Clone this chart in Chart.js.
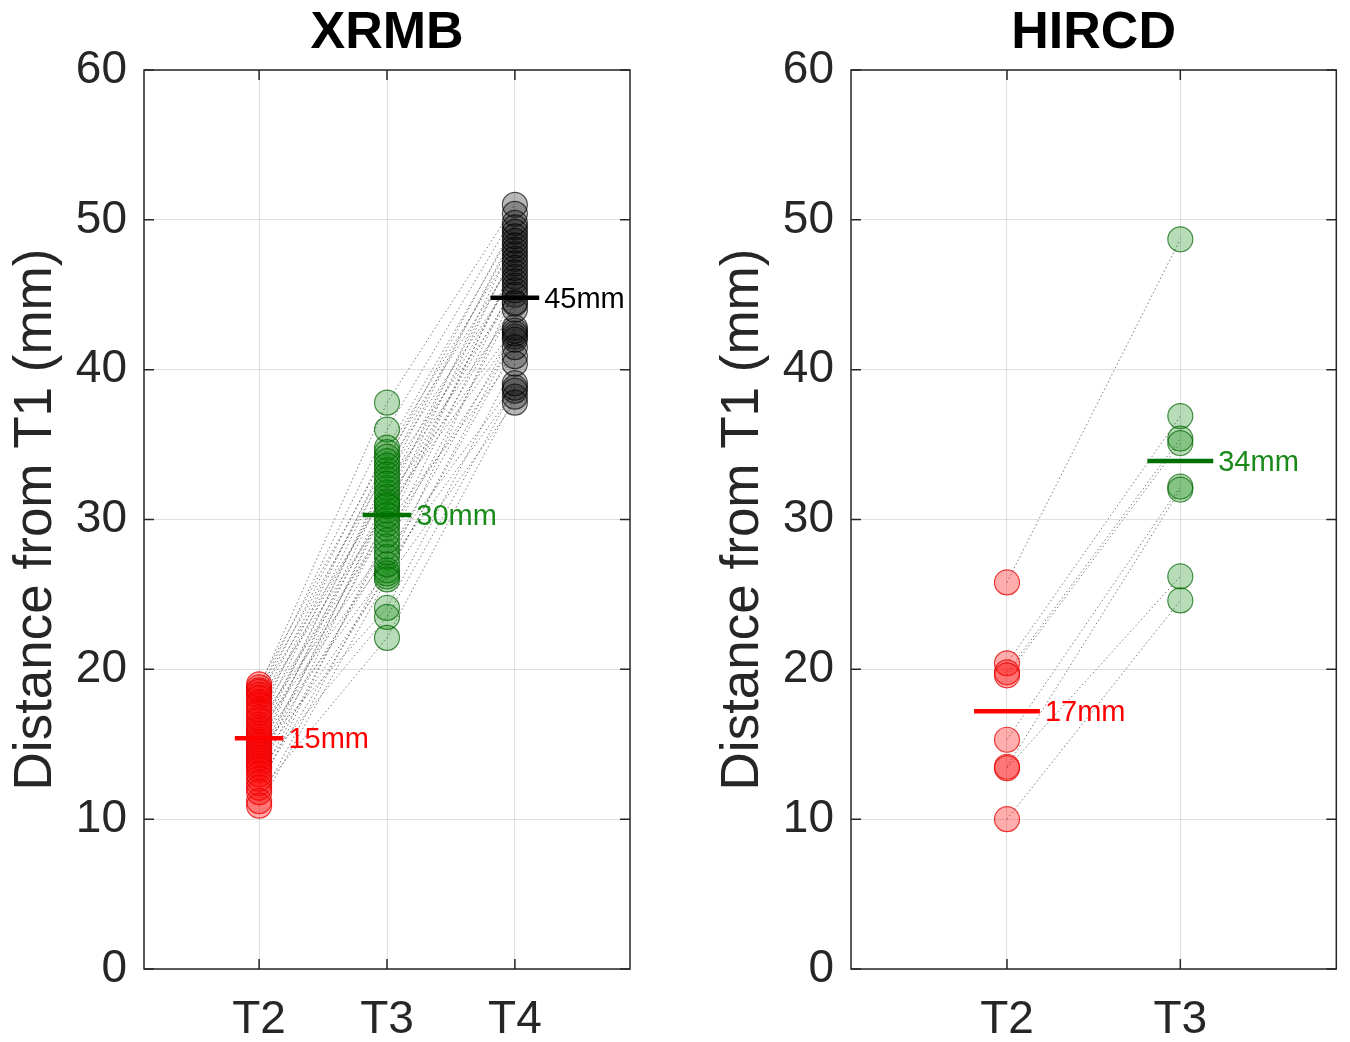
<!DOCTYPE html>
<html>
<head>
<meta charset="utf-8">
<script src="https://cdn.jsdelivr.net/npm/chart.js@4.4.1/dist/chart.umd.min.js"></script>
<style>
  html, body { margin: 0; padding: 0; background: #ffffff; }
  #wrap { position: relative; width: 1350px; height: 1042px; background: #fff; }
  .panel { position: absolute; top: 0; width: 675px; height: 1042px; }
  #p1 { left: 0; }
  #p2 { left: 675px; }
</style>
</head>
<body>
<div id="wrap">
  <div class="panel" id="p1"><canvas id="c1" width="675" height="1042"></canvas></div>
  <div class="panel" id="p2"><canvas id="c2" width="675" height="1042"></canvas></div>
</div>
<script>
// ---------------- DATA ----------------
const yTickValues = [0, 10, 20, 30, 40, 50, 60];
const yAxisTitle = 'Distance from T1 (mm)';

// XRMB panel (one entry per speaker, same order in each array)
const xrmbTitle = 'XRMB';
const xrmbCategories = ['T2', 'T3', 'T4'];
const xrmbT2 = [19.0, 18.8, 18.6, 18.5, 18.3, 18.1, 17.8, 17.6, 17.3, 17.1,
                16.8, 16.6, 16.3, 16.1, 15.9, 15.7, 15.5, 15.3, 15.1, 14.9,
                14.7, 14.5, 14.3, 14.1, 13.9, 13.7, 13.5, 13.3, 13.0, 12.7,
                12.4, 12.1, 11.8, 11.2, 10.9];
const xrmbT3 = [34.5, 37.8, 33.3, 36.0, 31.8, 34.8, 30.6, 33.9, 32.1, 29.4,
                34.2, 28.2, 33.6, 31.0, 27.5, 32.7, 30.0, 33.0, 26.6, 31.5,
                24.1, 32.4, 29.7, 27.8, 30.9, 26.2, 31.2, 23.5, 30.3, 28.6,
                26.4, 29.0, 22.1, 27.0, 26.0];
const xrmbT4 = [48.3, 51.0, 48.9, 50.4, 46.5, 49.5, 48.0, 49.8, 47.7, 47.1,
                47.4, 44.4, 46.2, 45.6, 42.6, 49.2, 46.8, 45.0, 45.3, 42.8,
                40.4, 44.0, 40.9, 39.1, 42.4, 42.2, 48.6, 38.8, 44.5, 45.9,
                41.5, 42.0, 38.2, 38.6, 37.8];
const xrmbMeans = [15.4, 30.3, 44.8];
const xrmbMeanLabels = ['15mm', '30mm', '45mm'];

// HIRCD panel
const hircdTitle = 'HIRCD';
const hircdCategories = ['T2', 'T3'];
const hircdT2 = [25.8, 20.4, 19.8, 19.6, 15.3, 13.5, 13.4, 10.0];
const hircdT3 = [48.7, 36.9, 35.4, 35.1, 32.2, 32.0, 26.2, 24.6];
const hircdMeans = [17.2, 33.9];
const hircdMeanLabels = ['17mm', '34mm'];

// ---------------- STYLE ----------------
const pointFill   = ['rgba(255,0,0,0.32)', 'rgba(0,128,0,0.28)', 'rgba(0,0,0,0.28)'];
const pointBorder = ['rgba(230,0,0,0.75)', 'rgba(0,100,0,0.70)', 'rgba(0,0,0,0.65)'];
const meanColor   = ['#ff0000', '#007000', '#000000'];
const labelColor  = ['#ff0000', '#1a8a1a', '#000000'];
const FONT = '"Liberation Sans", Arial, Helvetica, sans-serif';
const axisColor = '#262626';

const boxPlugin = {
  id: 'boxPlugin',
  afterDatasetsDraw(chart) {
    const ctx = chart.ctx;
    const a = chart.chartArea;
    const xs = chart.scales.x, ys = chart.scales.y;
    ctx.save();
    ctx.strokeStyle = axisColor;
    ctx.lineWidth = 1.5;
    ctx.strokeRect(a.left, a.top, a.right - a.left, a.bottom - a.top);
    // inward tick marks
    const tl = 10;
    ctx.beginPath();
    ys.ticks.forEach(t => {
      const y = ys.getPixelForValue(t.value);
      ctx.moveTo(a.left, y); ctx.lineTo(a.left + tl, y);
      ctx.moveTo(a.right, y); ctx.lineTo(a.right - tl, y);
    });
    xs.ticks.forEach(t => {
      const x = xs.getPixelForValue(t.value);
      ctx.moveTo(x, a.bottom); ctx.lineTo(x, a.bottom - tl);
      ctx.moveTo(x, a.top); ctx.lineTo(x, a.top + tl);
    });
    ctx.stroke();
    // mean labels
    const opts = chart.options.plugins.boxPlugin;
    ctx.font = '29px ' + FONT;
    ctx.textBaseline = 'middle';
    ctx.textAlign = 'left';
    opts.means.forEach((m, i) => {
      ctx.fillStyle = labelColor[i];
      const x = xs.getPixelForValue(i + 1 + opts.halfWidth) + 5;
      const y = ys.getPixelForValue(m);
      ctx.fillText(opts.labels[i], x, y + 2);
    });
    ctx.restore();
  }
};

function makePanel(canvasId, title, categories, series, means, meanLabels, yAxisWidth, yTitlePad, rightPad) {
  const halfWidth = 0.19;
  const datasets = [];
  // dotted per-subject connecting lines
  const n = series[0].length;
  for (let s = 0; s < n; s++) {
    datasets.push({
      type: 'line',
      data: series.map((arr, k) => ({ x: k + 1, y: arr[s] })),
      borderColor: 'rgba(70,70,70,0.7)',
      borderWidth: 1,
      borderDash: [1.5, 2.5],
      pointRadius: 0,
      fill: false,
      tension: 0,
      order: 10
    });
  }
  // circles per category
  series.forEach((arr, k) => {
    datasets.push({
      type: 'scatter',
      data: arr.map(v => ({ x: k + 1, y: v })),
      backgroundColor: pointFill[k],
      borderColor: pointBorder[k],
      borderWidth: 1.2,
      pointRadius: 12.5,
      pointHoverRadius: 12.5,
      order: 5
    });
  });
  // mean bars
  means.forEach((m, k) => {
    datasets.push({
      type: 'line',
      data: [{ x: k + 1 - halfWidth, y: m }, { x: k + 1 + halfWidth, y: m }],
      borderColor: meanColor[k],
      borderWidth: 4.5,
      pointRadius: 0,
      fill: false,
      order: 1
    });
  });

  return new Chart(document.getElementById(canvasId), {
    type: 'scatter',
    data: { datasets },
    plugins: [boxPlugin],
    options: {
      responsive: false,
      animation: false,
      devicePixelRatio: 1,
      layout: { padding: { left: 0, right: rightPad, top: 0, bottom: 0 } },
      plugins: {
        legend: { display: false },
        tooltip: { enabled: false },
        title: {
          display: true,
          text: title,
          fullSize: false,
          color: '#000',
          font: { family: FONT, size: 52, weight: 'bold', lineHeight: 1.2 },
          padding: { top: 2, bottom: 5.6 }
        },
        boxPlugin: { means, labels: meanLabels, halfWidth }
      },
      scales: {
        x: {
          type: 'linear',
          min: 0.1,
          max: categories.length + 0.9,
          afterBuildTicks: (scale) => { scale.ticks = categories.map((c, i) => ({ value: i + 1 })); },
          afterFit: (scale) => { scale.height = 73; },
          ticks: {
            callback: (v) => categories[Math.round(v) - 1] || '',
            color: axisColor,
            font: { family: FONT, size: 46 },
            padding: 24,
            maxRotation: 0,
            autoSkip: false
          },
          grid: { color: 'rgba(0,0,0,0.12)', lineWidth: 1, drawTicks: false },
          border: { display: false }
        },
        y: {
          type: 'linear',
          min: 0,
          max: 60,
          afterBuildTicks: (scale) => { scale.ticks = yTickValues.map(v => ({ value: v })); },
          afterFit: (scale) => { scale.width = yAxisWidth; },
          ticks: {
            color: axisColor,
            font: { family: FONT, size: 46 },
            padding: 17
          },
          grid: { color: 'rgba(0,0,0,0.12)', lineWidth: 1, drawTicks: false },
          border: { display: false },
          title: {
            display: true,
            text: yAxisTitle,
            color: axisColor,
            font: { family: FONT, size: 53, lineHeight: 1.2 },
            padding: { top: yTitlePad, bottom: 0 }
          }
        }
      }
    }
  });
}

makePanel('c1', xrmbTitle, xrmbCategories, [xrmbT2, xrmbT3, xrmbT4], xrmbMeans, xrmbMeanLabels, 144, 5, 45);
makePanel('c2', hircdTitle, hircdCategories, [hircdT2, hircdT3], hircdMeans, hircdMeanLabels, 176, 37, 13);
</script>
</body>
</html>
